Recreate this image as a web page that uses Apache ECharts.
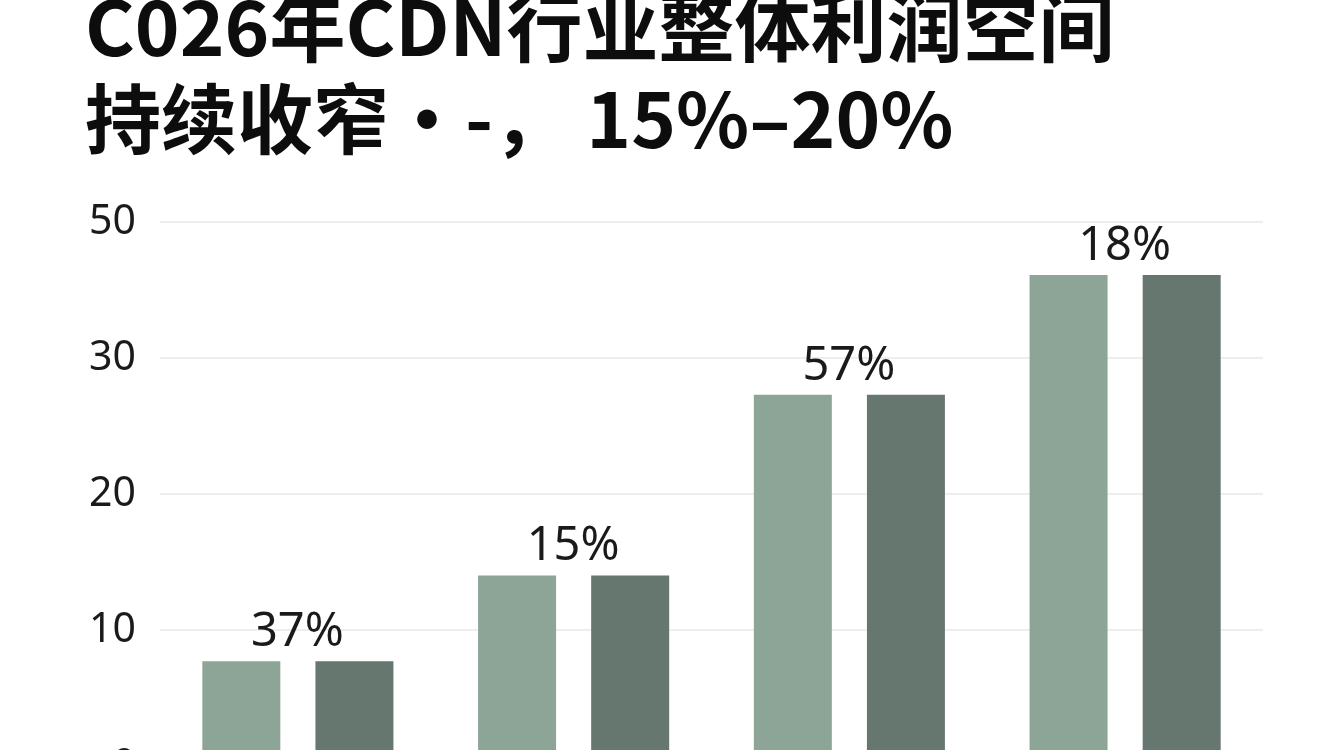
<!DOCTYPE html>
<html>
<head>
<meta charset="utf-8">
<title>CDN行业利润空间</title>
<script src="https://cdn.jsdelivr.net/npm/echarts@6/dist/echarts.min.js"></script>
<style>
  html, body { margin: 0; padding: 0; background: #ffffff; }
  #chart { width: 1344px; height: 750px; }
</style>
</head>
<body>
<div id="chart"></div>
<script>
// data
var categories = ['A', 'B', 'C', 'D'];
var lightValues = [7.7, 14.0, 27.3, 36.1];
var darkValues = [7.7, 14.0, 27.3, 36.1];
var groupLabels = ['37%', '15%', '57%', '18%'];
var tickLabels = ['0', '10', '20', '30', '50'];

var titleText = 'C026年CDN行业整体利润空间\n持续收窄・-， 15%–20%';

var chart = echarts.init(document.getElementById('chart'));

var option = {
    backgroundColor: '#ffffff',
    animation: false,

    title: {
        text: titleText,
        left: 80,
        top: -24,
        textStyle: {
            fontFamily: 'Noto Sans CJK SC',
            fontSize: 76,
            fontWeight: 'bold',
            lineHeight: 92,
            color: '#0d0d0d'
        }
    },

    grid: {
        left: 160,
        right: 81,
        top: 222,
        bottom: -16,
        outerBoundsMode: 'none'
    },

    xAxis: {
        type: 'category',
        data: categories,
        axisLine: { show: false },
        axisTick: { show: false },
        axisLabel: { show: false }
    },

    yAxis: {
        type: 'value',
        min: 0,
        max: 40,
        interval: 10,
        axisLine: { show: false },
        axisTick: { show: false },
        splitLine: {
            lineStyle: { color: '#e8e8e8', width: 1.5 }
        },
        axisLabel: {
            margin: 24,
            fontFamily: 'Noto Sans',
            fontSize: 41,
            color: '#1a1a1a',
            formatter: function (v) {
                return tickLabels[Math.round(v / 10)];
            }
        }
    },

    series: [
        {
            type: 'bar',
            data: lightValues,
            barWidth: 78,
            barGap: '45%',
            itemStyle: { color: '#8ca597' },
            label: {
                show: true,
                position: 'top',
                distance: 5,
                offset: [56, 0],
                fontFamily: 'Noto Sans',
                fontSize: 47,
                color: '#1a1a1a',
                formatter: function (p) {
                    return groupLabels[p.dataIndex];
                }
            }
        },
        {
            type: 'bar',
            data: darkValues,
            barWidth: 78,
            itemStyle: { color: '#66776f' }
        }
    ]
};

chart.setOption(option);
</script>
</body>
</html>
